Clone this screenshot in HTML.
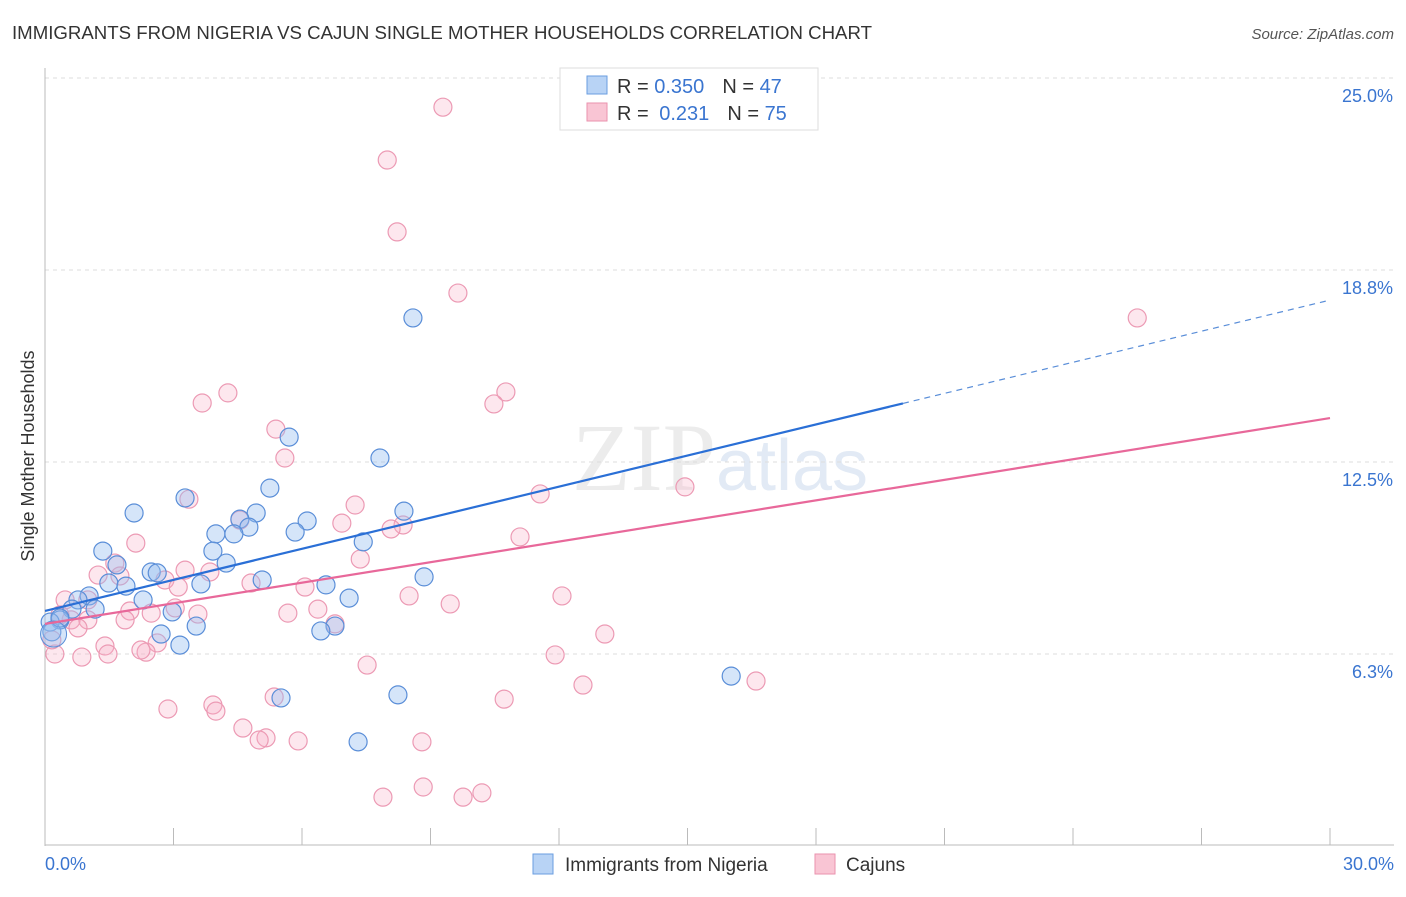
<!DOCTYPE html>
<html><head><meta charset="utf-8"><style>
body{margin:0;background:#fff;font-family:"Liberation Sans",sans-serif}
svg text{font-family:"Liberation Sans",sans-serif}
</style></head><body>
<svg id="chart" width="1406" height="892" xmlns="http://www.w3.org/2000/svg">
<text x="12" y="39" font-size="18" fill="#333" textLength="860" lengthAdjust="spacingAndGlyphs">IMMIGRANTS FROM NIGERIA VS CAJUN SINGLE MOTHER HOUSEHOLDS CORRELATION CHART</text>
<text x="1394" y="39" font-size="15" fill="#555" text-anchor="end" font-style="italic">Source: ZipAtlas.com</text>
<text x="720" y="490" font-size="96" text-anchor="middle" fill="#ececec"><tspan font-family="Liberation Serif">ZIP</tspan><tspan fill="#e2eaf5" font-size="72">atlas</tspan></text>
<g id="grid"></g><g id="axes"></g><g id="marks"></g>
<text transform="translate(34,456) rotate(-90)" font-size="18" fill="#333" text-anchor="middle">Single Mother Households</text>
<g>
<rect x="560" y="68" width="258" height="62" fill="#fff" stroke="#ddd"/>
<rect x="587" y="76" width="20" height="18" fill="#b8d3f5" stroke="#6a9ee0"/>
<rect x="587" y="103" width="20" height="18" fill="#f9c5d4" stroke="#ea92ae"/>
<text x="617" y="93" font-size="20" fill="#333">R = <tspan fill="#3a75d0">0.350</tspan><tspan dx="18">N = </tspan><tspan fill="#3a75d0">47</tspan></text>
<text x="617" y="120" font-size="20" fill="#333">R = <tspan fill="#3a75d0" dx="5">0.231</tspan><tspan dx="18">N = </tspan><tspan fill="#3a75d0">75</tspan></text>
</g>
<g>
<rect x="533" y="854" width="20" height="20" fill="#b8d3f5" stroke="#6a9ee0"/>
<text x="565" y="871" font-size="19" fill="#333">Immigrants from Nigeria</text>
<rect x="815" y="854" width="20" height="20" fill="#f9c5d4" stroke="#ea92ae"/>
<text x="846" y="871" font-size="19" fill="#333">Cajuns</text>
</g>
</svg>
<script>
const yTicks=[6.25,12.5,18.75,25];
const yTickLabels=["6.3%","12.5%","18.8%","25.0%"];
const xTickLabels=["0.0%","30.0%"];
const nigeriaX=[8.59,5.70,7.82,3.27,5.25,2.08,4.93,4.55,6.12,4.76,3.99,4.41,5.84,8.38,7.43,1.35,3.92,4.23,1.68,2.48,2.62,5.07,1.49,1.89,3.64,6.56,8.85,2.29,1.03,0.77,7.10,1.17,0.63,2.97,0.35,0.12,3.53,2.71,6.77,6.44,3.15,0.16,5.51,8.24,7.31,16.02,0.35];
const nigeriaY=[17.19,13.31,12.63,11.33,11.65,10.84,10.84,10.64,10.58,10.38,10.16,10.16,10.22,10.90,9.90,9.60,9.60,9.21,9.15,8.92,8.89,8.66,8.56,8.46,8.53,8.50,8.76,8.01,8.14,8.01,8.07,7.71,7.71,7.62,7.36,7.29,7.16,6.90,7.16,7.00,6.54,6.97,4.82,4.92,3.39,5.53,7.42];
const cajunX=[9.29,7.99,8.22,9.64,25.50,10.76,10.48,4.27,3.67,5.39,5.60,3.36,14.94,11.56,7.24,4.55,6.93,8.36,8.08,11.09,2.12,7.36,1.63,3.27,1.24,3.85,1.75,2.80,4.81,6.07,3.11,8.50,12.07,9.46,0.47,1.00,1.98,2.48,3.04,3.57,5.67,6.37,1.87,0.61,1.00,6.77,0.77,13.07,2.62,1.40,2.36,2.24,1.47,0.23,0.86,11.91,7.52,16.60,12.56,5.35,10.72,3.92,2.87,3.99,4.62,5.16,5.00,5.91,8.80,7.89,8.83,9.76,10.20,0.16,0.35];
const cajunY=[24.05,22.33,19.99,18.00,17.19,14.78,14.39,14.75,14.42,13.57,12.63,11.29,11.69,11.46,11.10,10.61,10.51,10.45,10.32,10.06,9.86,9.34,9.21,8.98,8.82,8.92,8.79,8.66,8.56,8.43,8.43,8.14,8.14,7.88,8.01,8.01,7.65,7.58,7.75,7.55,7.58,7.71,7.36,7.36,7.36,7.23,7.10,6.90,6.61,6.51,6.31,6.38,6.25,6.25,6.15,6.22,5.89,5.37,5.24,4.85,4.78,4.59,4.46,4.39,3.84,3.52,3.45,3.42,3.39,1.59,1.92,1.59,1.73,6.71,7.52];
const nigeriaTrend=[7.65,17.77], nigeriaSolidEnd=20.03;
const cajunTrend=[7.23,13.93];
const NS="http://www.w3.org/2000/svg";
const X0=45,X1=1330,Y0=846,PPY=30.72;
const xs=v=>X0+v/30*(X1-X0), ys=v=>Y0-v*PPY;
function mk(tag,attrs,parent){const e=document.createElementNS(NS,tag);for(const k in attrs)e.setAttribute(k,attrs[k]);document.getElementById(parent).appendChild(e);return e;}
yTicks.forEach((t,i)=>{
 const g=mk('line',{x1:X0,x2:1394,y1:ys(t),y2:ys(t),stroke:'#ddd','stroke-dasharray':'4,4'},'grid');
 
 
 const l=mk('text',{x:1393,y:ys(t)+24,'font-size':18,fill:'#3a75d0','text-anchor':'end'},'axes');
 l.textContent=yTickLabels[i];
 
 
});
const ax=mk('line',{x1:X0,x2:X0,y1:68,y2:846,stroke:'#bbb'},'axes');


const bx=mk('line',{x1:X0,x2:1394,y1:845,y2:845,stroke:'#bbb'},'axes');


for(let i=0;i<=10;i++){
 const t=mk('line',{x1:xs(i*3),x2:xs(i*3),y1:828,y2:845,stroke:'#bbb'},'axes');
 
 
}
[[0,'start',45],[30,'end',1394]].forEach((d,i)=>{
 const l=mk('text',{x:d[2],y:870,'font-size':18,fill:'#3a75d0','text-anchor':d[1]},'axes');
 l.textContent=xTickLabels[i];
 
 
});
function pts(X,Y,fill,stroke,name){
 X.forEach((x,i)=>{
  const c=mk('circle',{cx:xs(x),cy:ys(Y[i]),r:9,fill:fill,stroke:stroke,'stroke-width':1.2},'marks');
  
  
 });
}
pts(cajunX,cajunY,'rgba(248,175,198,0.3)','#ec9ab4','cajun-point');
pts(nigeriaX,nigeriaY,'rgba(150,190,240,0.4)','#5a8ed8','nigeria-point');
const big=mk('circle',{cx:xs(0.2),cy:ys(6.9),r:13,fill:'rgba(150,190,240,0.4)',stroke:'#5a8ed8'},'marks');


const nt=v=>nigeriaTrend[0]+(nigeriaTrend[1]-nigeriaTrend[0])*v/30;
const ct=v=>cajunTrend[0]+(cajunTrend[1]-cajunTrend[0])*v/30;
let l1=mk('line',{x1:xs(0),y1:ys(nt(0)),x2:xs(nigeriaSolidEnd),y2:ys(nt(nigeriaSolidEnd)),stroke:'#2a6fd6','stroke-width':2.2},'marks');


let l2=mk('line',{x1:xs(nigeriaSolidEnd),y1:ys(nt(nigeriaSolidEnd)),x2:xs(30),y2:ys(nt(30)),stroke:'#5a8ed8','stroke-width':1.2,'stroke-dasharray':'6,5'},'marks');


let l3=mk('line',{x1:xs(0),y1:ys(ct(0)),x2:xs(30),y2:ys(ct(30)),stroke:'#e8689a','stroke-width':2.2},'marks');


</script>
</body></html>
